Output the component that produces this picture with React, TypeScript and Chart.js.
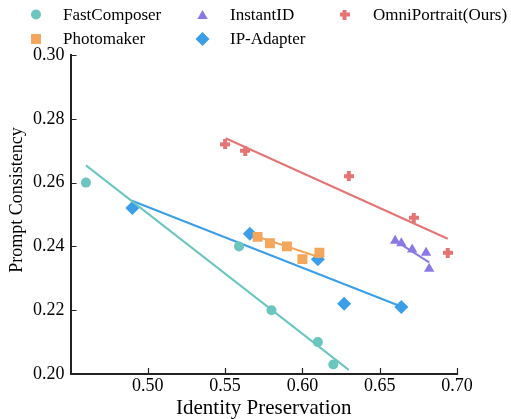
import React, { useEffect, useRef } from 'react';
import { Chart, registerables } from 'chart.js';

Chart.register(...registerables);

// ---- data ----
const seriesNames = ['FastComposer', 'Photomaker', 'InstantID', 'IP-Adapter', 'OmniPortrait(Ours)'];
const seriesColors = ['#6cc6c0', '#f4a65c', '#8c78e4', '#3a9fe8', '#e57474'];

const fastComposerX = [0.46, 0.559, 0.58, 0.61, 0.62];
const fastComposerY = [0.26, 0.24, 0.22, 0.21, 0.203];
const photomakerX = [0.571, 0.579, 0.59, 0.6, 0.611];
const photomakerY = [0.243, 0.241, 0.24, 0.236, 0.238];
const instantIdX = [0.66, 0.664, 0.671, 0.68, 0.682];
const instantIdY = [0.2418, 0.241, 0.239, 0.238, 0.233];
const ipAdapterX = [0.49, 0.566, 0.61, 0.627, 0.664];
const ipAdapterY = [0.252, 0.244, 0.236, 0.222, 0.221];
const omniX = [0.55, 0.563, 0.63, 0.672, 0.694];
const omniY = [0.272, 0.27, 0.262, 0.249, 0.238];

// fitted trend lines (start / end)
const fastComposerFitX = [0.46, 0.63];
const fastComposerFitY = [0.2654, 0.2013];
const photomakerFitX = [0.57, 0.611];
const photomakerFitY = [0.2432, 0.2366];
const instantIdFitX = [0.661, 0.682];
const instantIdFitY = [0.2415, 0.235];
const ipAdapterFitX = [0.4893, 0.6647];
const ipAdapterFitY = [0.2544, 0.221];
const omniFitX = [0.5503, 0.694];
const omniFitY = [0.2739, 0.2424];

const xTickMin = 0.45;
const xTickMax = 0.7;
const xTickStep = 0.05;
const yTickMin = 0.2;
const yTickMax = 0.3;
const yTickStep = 0.02;

const xTitle = 'Identity Preservation';
const yTitle = 'Prompt Consistency';

const FONT = '"Liberation Serif", "Times New Roman", serif';

const zip = (xs: number[], ys: number[]) => xs.map((x, i) => ({ x, y: ys[i] }));

export default function App() {
  const ref = useRef<HTMLCanvasElement>(null);

  useEffect(() => {
    const canvas = ref.current;
    if (!canvas) return;

    const plus = document.createElement('canvas');
    plus.width = 10;
    plus.height = 10;
    const pc = plus.getContext('2d')!;
    pc.fillStyle = seriesColors[4];
    pc.fillRect(0, 3, 10, 4);
    pc.fillRect(3, 0, 4, 10);

    const styles: any[] = ['circle', 'rect', 'triangle', 'rectRot', plus];
    const radii = [5, 7, 6, 7, 5];
    const pts = [
      zip(fastComposerX, fastComposerY),
      zip(photomakerX, photomakerY),
      zip(instantIdX, instantIdY),
      zip(ipAdapterX, ipAdapterY),
      zip(omniX, omniY),
    ];
    const fits = [
      zip(fastComposerFitX, fastComposerFitY),
      zip(photomakerFitX, photomakerFitY),
      zip(instantIdFitX, instantIdFitY),
      zip(ipAdapterFitX, ipAdapterFitY),
      zip(omniFitX, omniFitY),
    ];

    const datasets: any[] = [];
    seriesNames.forEach((name, i) => {
      datasets.push({
        label: name,
        data: pts[i],
        pointStyle: styles[i],
        pointRadius: radii[i],
        backgroundColor: seriesColors[i],
        borderColor: seriesColors[i],
        borderWidth: 0,
        showLine: false,
      });
      datasets.push({
        label: name + ' fit',
        data: fits[i],
        showLine: true,
        pointRadius: 0,
        borderColor: seriesColors[i],
        backgroundColor: seriesColors[i],
        borderWidth: 2,
        fill: false,
      });
    });

    const drawMarker = (ctx: CanvasRenderingContext2D, i: number, x: number, y: number) => {
      ctx.fillStyle = seriesColors[i];
      const r = radii[i];
      ctx.beginPath();
      if (i === 0) {
        ctx.arc(x, y, r, 0, Math.PI * 2);
        ctx.fill();
      } else if (i === 1) {
        const s = Math.SQRT1_2 * r;
        ctx.fillRect(x - s, y - s, 2 * s, 2 * s);
      } else if (i === 2) {
        for (let k = 0; k < 3; k++) {
          const a = -Math.PI / 2 + (k * 2 * Math.PI) / 3;
          const px = x + Math.cos(a) * r;
          const py = y + Math.sin(a) * r;
          if (k === 0) ctx.moveTo(px, py);
          else ctx.lineTo(px, py);
        }
        ctx.closePath();
        ctx.fill();
      } else if (i === 3) {
        ctx.moveTo(x, y - r);
        ctx.lineTo(x + r, y);
        ctx.lineTo(x, y + r);
        ctx.lineTo(x - r, y);
        ctx.closePath();
        ctx.fill();
      } else {
        ctx.drawImage(plus, x - 5, y - 5);
      }
    };

    const legendPlugin = {
      id: 'customLegend',
      afterDraw(chart: any) {
        const ctx = chart.ctx as CanvasRenderingContext2D;
        const markerX = [36, 202.5, 344.5];
        const textX = [63, 230, 373];
        const markerY = [14.5, 39];
        const baseY = [19.5, 44];
        ctx.save();
        ctx.font = `17px ${FONT}`;
        ctx.textBaseline = 'alphabetic';
        ctx.textAlign = 'left';
        seriesNames.forEach((name, i) => {
          const col = Math.floor(i / 2);
          const row = i % 2;
          drawMarker(ctx, i, markerX[col], markerY[row] + (i === 2 ? 1.5 : 0));
          ctx.fillStyle = '#000';
          ctx.fillText(name, textX[col], baseY[row]);
        });
        ctx.restore();
      },
    };

    const axesPlugin = {
      id: 'inwardTicks',
      afterDraw(chart: any) {
        const ctx = chart.ctx as CanvasRenderingContext2D;
        const xs = chart.scales.x;
        const ys = chart.scales.y;
        const area = chart.chartArea;
        ctx.save();
        ctx.strokeStyle = '#222';
        ctx.lineWidth = 1.2;
        ctx.beginPath();
        xs.ticks.forEach((t: any) => {
          if (Math.abs(t.value - xTickMin) < 1e-6) return;
          const px = Math.round(xs.getPixelForValue(t.value)) + 0.5;
          ctx.moveTo(px, area.bottom);
          ctx.lineTo(px, area.bottom - 6);
        });
        ys.ticks.forEach((t: any) => {
          const py = Math.round(ys.getPixelForValue(t.value)) + 0.5;
          ctx.moveTo(area.left, py);
          ctx.lineTo(area.left + 6, py);
        });
        ctx.stroke();
        // y axis title
        ctx.translate(17, 200);
        ctx.rotate(-Math.PI / 2);
        ctx.font = `18px ${FONT}`;
        ctx.fillStyle = '#000';
        ctx.textAlign = 'center';
        ctx.textBaseline = 'middle';
        ctx.fillText(yTitle, 0, 0);
        ctx.restore();
      },
    };

    const chart = new Chart(canvas, {
      type: 'scatter',
      data: { datasets },
      options: {
        animation: false,
        responsive: false,
        maintainAspectRatio: false,
        layout: { padding: { top: 55, right: 54, bottom: 0, left: 27 } },
        plugins: {
          legend: { display: false },
          tooltip: { enabled: false },
        },
        scales: {
          x: {
            type: 'linear',
            min: xTickMin,
            max: xTickMax,
            ticks: {
              stepSize: xTickStep,
              color: '#000',
              padding: 3,
              font: { family: FONT, size: 18, lineHeight: 1 },
              callback: (v: any) => (Math.abs(Number(v) - xTickMin) < 1e-6 ? '' : Number(v).toFixed(2)),
              maxRotation: 0,
              autoSkip: false,
            },
            grid: { display: true, drawOnChartArea: false, drawTicks: false },
            border: { display: true, color: '#222', width: 2 },
            title: {
              display: true,
              text: xTitle,
              color: '#000',
              font: { family: FONT, size: 21, lineHeight: 1 },
              padding: { top: 0, bottom: 0 },
            },
          },
          y: {
            type: 'linear',
            min: yTickMin,
            max: yTickMax,
            ticks: {
              stepSize: yTickStep,
              color: '#000',
              padding: 6,
              font: { family: FONT, size: 18, lineHeight: 1 },
              callback: (v: any) => Number(v).toFixed(2),
              autoSkip: false,
            },
            grid: { display: true, drawOnChartArea: false, drawTicks: false },
            border: { display: true, color: '#222', width: 2 },
          },
        },
      },
      plugins: [legendPlugin, axesPlugin],
    });

    return () => chart.destroy();
  }, []);

  return (
    <div style={{ position: 'fixed', left: 0, top: 0, width: 511, height: 419, background: '#fff' }}>
      <canvas ref={ref} width={511} height={419} style={{ display: 'block' }} />
    </div>
  );
}
